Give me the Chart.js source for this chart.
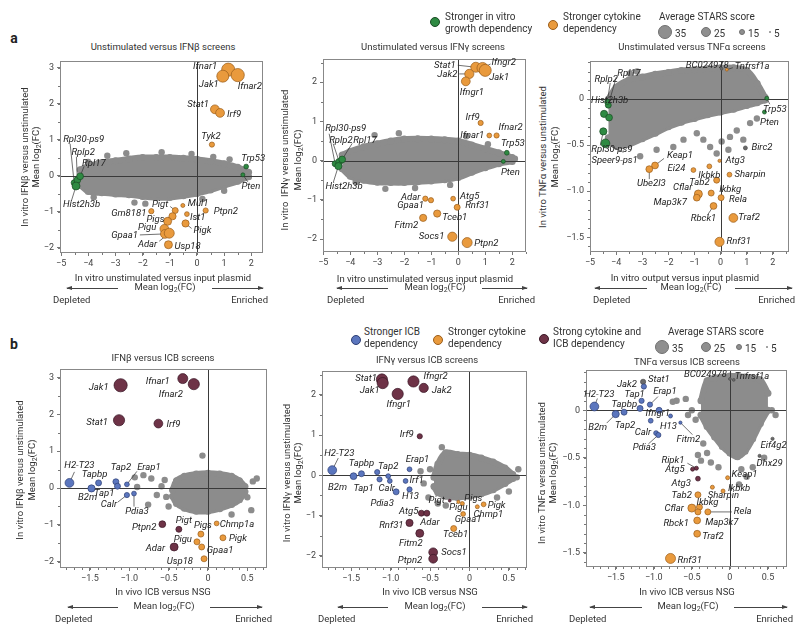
<!DOCTYPE html>
<html>
<head>
<meta charset="utf-8">
<script src="https://cdn.jsdelivr.net/npm/chart.js@4.4.1/dist/chart.umd.min.js"></script>
<style>
body { margin: 0; background: #fff; }
#fig { position: relative; width: 800px; height: 634px; overflow: hidden; font-family: Roboto, "DejaVu Sans", sans-serif; color: #222; }
.t { position: absolute; white-space: nowrap; font-size: 9.5px; line-height: 1; }
.leg { font-size: 10px; color: #333; }
.tit { font-size: 9.5px; color: #333; }
canvas { position: absolute; }
.ln { position: absolute; height: 1px; background: #444; }
.hd { position: absolute; width: 0; height: 0; border-top: 2.5px solid transparent; border-bottom: 2.5px solid transparent; }
.dot { position: absolute; border-radius: 50%; box-sizing: border-box; }
</style>
</head>
<body>
<div id="fig"></div>
<script>
// ---- tick values and labels ----
var aXTicks = [-5, -4, -3, -2, -1, 0, 1, 2];
var aXLabels = ["\u22125", "\u22124", "\u22123", "\u22122", "\u22121", "0", "1", "2"];
var bXTicks = [-1.5, -1, -0.5, 0, 0.5];
var bXLabels = ["\u22121.5", "\u22121.0", "\u22120.5", "0", "0.5"];
var y3Ticks = [-2, -1, 0, 1, 2, 3];
var y3Labels = ["\u22122", "\u22121", "0", "1", "2", "3"];
var y2Ticks = [-2, -1, 0, 1, 2];
var y2Labels = ["\u22122", "\u22121", "0", "1", "2"];
var tnfTicks = [-1.5, -1, -0.5, 0];
var tnfLabels = ["\u22121.5", "\u22121.0", "\u22120.5", "0"];

// ---- a1: Unstimulated versus IFNb ----
var a1Gene = ["Ifnar1", "Jak1", "Ifnar2", "Stat1", "Irf9", "Tyk2", "Gm8181", "Pigt", "Mul1", "Ist1", "Ptpn2", "Pigk", "Pigs", "", "Pigu", "Gpaa1", "Adar", "Usp18", "Rpl30-ps9", "Rplp2", "Rpl17", "Hist2h3b", "Trp53", "Pten"];
var a1X = [1.15, 0.95, 1.5, 0.66, 0.85, 0.55, -1.68, -0.8, -0.52, -0.37, 0.32, -0.42, -0.9, -1.08, -1.2, -1.18, -1.02, -1.05, -4.52, -4.4, -4.3, -4.45, 1.81, 1.69];
var a1Y = [2.94, 2.76, 2.79, 1.84, 1.74, 0.86, -0.99, -0.97, -0.83, -1.07, -0.97, -1.33, -1.13, -1.27, -1.48, -1.62, -1.6, -1.92, -0.2, -0.12, -0.02, -0.29, 0.25, 0.02];
var a1Score = [33, 30, 33, 22, 22, 13, 13, 15, 10, 12, 13, 18, 18, 20, 22, 22, 25, 20, 15, 17, 17, 20, 12, 10];
var a1Type = "oooooooooooooooooogggggg".split("");
var a1CloudX = [-4.3, -4, -3.5, -3, -2.5, -2, -1.5, -1, -0.5, 0, 0.5, 1, 1.5, 1.9];
var a1CloudTop = [0.16, 0.26, 0.36, 0.41, 0.46, 0.5, 0.5, 0.5, 0.48, 0.45, 0.4, 0.33, 0.23, 0.09];
var a1CloudBot = [-0.26, -0.44, -0.48, -0.51, -0.53, -0.58, -0.61, -0.61, -0.56, -0.5, -0.4, -0.28, -0.16, -0.03];
var a1GrayX = [-4.0, -3.3, -2.6, -2.3, -1.9, -0.2, 0.6, 1.2, -3.8, -1.3, 0.2, 1.0];
var a1GrayY = [0.38, 0.55, 0.62, -0.75, -0.78, 0.6, 0.52, 0.45, -0.6, 0.65, -0.65, -0.42];

// ---- a2: Unstimulated versus IFNg ----
var a2Gene = ["Stat1", "Ifngr2", "Jak1", "Jak2", "Ifngr1", "Irf9", "Ifnar1", "Ifnar2", "Adar", "Gpaa1", "Atg5", "Rnf31", "Tceb1", "Fitm2", "Socs1", "Ptpn2", "Rpl30-ps9", "Rplp2", "Rpl17", "Hist2h3b", "Trp53", "Pten"];
var a2X = [0.65, 0.9, 1.0, 0.41, 0.28, 0.83, 1.15, 1.42, -1.22, -1.01, -0.19, -0.04, -0.78, -1.3, -0.22, 0.33, -4.56, -4.41, -4.3, -4.44, 1.8, 1.67];
var a2Y = [2.38, 2.36, 2.3, 2.21, 2.02, 0.96, 0.64, 0.64, -0.97, -1.01, -0.97, -1.19, -1.35, -1.46, -1.94, -2.09, -0.08, -0.03, 0.03, -0.14, 0.2, -0.02];
var a2Score = [25, 28, 30, 23, 22, 13, 12, 13, 13, 13, 12, 15, 18, 18, 23, 25, 15, 17, 17, 18, 12, 10];
var a2Type = "oooooooooooooooogggggg".split("");
var a2CloudX = [-4.3, -4, -3.5, -3, -2.5, -2, -1.5, -1, -0.5, 0, 0.5, 1, 1.5, 2];
var a2CloudTop = [0.14, 0.24, 0.35, 0.43, 0.5, 0.55, 0.56, 0.55, 0.53, 0.5, 0.4, 0.3, 0.2, 0.08];
var a2CloudBot = [-0.21, -0.4, -0.5, -0.55, -0.56, -0.56, -0.54, -0.52, -0.49, -0.43, -0.3, -0.18, -0.08, -0.02];
var a2GrayX = [-2.7, -3.1, -2.2, 1.1, 0.3, -0.3, 2.1, -1.6, -3.8];
var a2GrayY = [-0.72, 0.65, 0.7, 0.42, 0.62, -0.62, 0.05, -0.7, -0.55];

// ---- a3: Unstimulated versus TNFa ----
var a3Gene = ["BC024978", "Tnfrsf1a", "Keap1", "Ube2l3", "Ei24", "Ikbkb", "Atg3", "Sharpin", "Tab2", "Cflar", "Map3k7", "Ikbkg", "Rela", "Rbck1", "Traf2", "Rnf31", "Birc2", "Rpl17", "Rplp2", "Hist2h3b", "", "Rpl30-ps9", "Speer9-ps1", "Trp53", "Pten"];
var a3X = [0.04, 0.24, -2.51, -2.73, -1.04, -0.43, -0.04, 0.34, -0.15, -0.85, -0.91, -0.36, 0.02, -0.27, 0.49, -0.04, 0.95, -4.3, -4.34, -4.46, -4.27, -4.49, -4.41, 1.77, 1.68];
var a3Y = [0.33, 0.32, -0.72, -0.76, -0.77, -0.73, -0.67, -0.82, -0.88, -1.03, -1.07, -1.02, -1.07, -1.16, -1.29, -1.55, -0.53, -0.065, -0.03, -0.16, -0.2, -0.35, -0.48, 0.01, -0.14];
var a3Score = [7, 7, 17, 17, 12, 12, 8, 12, 15, 20, 17, 15, 15, 17, 22, 23, 10, 15, 13, 18, 17, 18, 22, 10, 10];
var a3Type = ["d"].concat("oooooooooooooood".split(""), "gggggggg".split(""));
var a3CloudX = [-4.3, -4, -3.5, -3, -2.5, -2, -1.5, -1, -0.5, 0, 0.5, 1, 1.4, 1.7];
var a3CloudTop = [0.0, 0.13, 0.21, 0.24, 0.27, 0.29, 0.31, 0.32, 0.33, 0.34, 0.34, 0.31, 0.17, 0.02];
var a3CloudBot = [-0.42, -0.51, -0.49, -0.43, -0.37, -0.3, -0.25, -0.21, -0.17, -0.14, -0.11, -0.07, -0.04, -0.01];
var a3GrayX = [-0.66, -0.4, -0.15, 0.04, 0.3, 0.36, 0.62, 0.87, 1.13, 1.39, -0.91, -1.42, -1.81, -2.45, -3.08, -3.47, -3.2];
var a3GrayY = [-0.44, -0.52, -0.59, -0.46, -0.55, -0.41, -0.34, -0.44, -0.26, -0.21, -0.37, -0.44, -0.52, -0.55, -0.62, 0.28, 0.3];

// ---- b1: IFNb versus ICB ----
var b1Gene = ["Jak1", "Ifnar1", "Ifnar2", "Stat1", "Irf9", "Ptpn2", "Pigt", "Adar", "H2-T23", "B2m", "Tapbp", "Tap2", "Erap1", "Tap1", "Calr", "Pdia3", "Pigs", "Chmp1a", "Pigk", "Pigu", "Gpaa1", "Usp18"];
var b1X = [-1.11, -0.32, -0.18, -1.13, -0.63, -0.58, -0.37, -0.43, -1.76, -1.48, -1.39, -1.17, -1.03, -1.15, -1.03, -0.94, -0.09, 0.11, 0.19, -0.14, -0.08, -0.05];
var b1Y = [2.79, 2.97, 2.82, 1.84, 1.75, -0.98, -1.12, -1.6, 0.14, -0.01, 0.14, 0.17, 0.1, 0.05, -0.19, -0.15, -1.25, -0.96, -1.35, -1.46, -1.6, -1.92];
var b1Score = [33, 25, 28, 28, 22, 17, 15, 20, 22, 18, 15, 15, 12, 15, 13, 12, 15, 12, 15, 15, 15, 15];
var b1Type = "mmmmmmmmbbbbbbbboooooo".split("");
var b1CloudX = [-0.45, -0.4, -0.3, -0.15, 0, 0.15, 0.3, 0.4, 0.47];
var b1CloudTop = [-0.05, 0.2, 0.32, 0.38, 0.4, 0.38, 0.32, 0.2, 0.04];
var b1CloudBot = [-0.22, -0.42, -0.55, -0.63, -0.63, -0.56, -0.45, -0.32, -0.1];
var b1GrayX = [-0.93, -0.82, -0.72, -0.9, -0.76, -0.65, -0.59, -0.53, 0.62, 0.55, -0.07, 0.57, -0.5, 0.3, -0.55, 0.5];
var b1GrayY = [0.29, 0.35, 0.26, 0.03, -0.45, -0.19, 0.05, -0.24, 0.26, -0.6, 0.88, 0.18, -0.5, -0.72, 0.22, -0.25];

// ---- b2: IFNg versus ICB ----
var b2Gene = ["Stat1", "Jak1", "Ifngr2", "Jak2", "Ifngr1", "Irf9", "Atg5", "Adar", "Rnf31", "Fitm2", "Socs1", "Ptpn2", "Pigt", "H2-T23", "B2m", "Tapbp", "Tap2", "Tap1", "", "Calr", "Pdia3", "Erap1", "Irf1", "H13", "Pigs", "Pigu", "Gpaa1", "Chmp1", "Pigk", "Tceb1"];
var b2X = [-1.11, -1.1, -0.71, -0.58, -0.91, -0.63, -0.61, -0.54, -0.76, -0.63, -0.46, -0.46, -0.25, -1.74, -1.47, -1.37, -1.17, -1.14, -1.03, -1.01, -0.93, -0.76, -0.81, -0.76, -0.09, -0.14, -0.08, 0.1, 0.18, -0.2];
var b2Y = [2.38, 2.29, 2.33, 2.17, 2.02, 0.97, -0.94, -0.94, -1.18, -1.44, -1.91, -2.07, -0.63, 0.13, -0.02, 0.04, 0.08, -0.1, -0.02, -0.14, -0.41, 0.15, -0.14, -0.35, -0.7, -0.66, -0.96, -0.78, -0.72, -1.32];
var b2Score = [28, 28, 28, 23, 28, 13, 15, 15, 18, 20, 22, 22, 7, 22, 17, 15, 13, 13, 12, 12, 15, 12, 12, 13, 10, 8, 12, 10, 12, 15];
var b2Type = "mmmmmmmmmmmmmbbbbbbbbbbboooooo".split("");
var b2CloudX = [-0.45, -0.4, -0.3, -0.15, 0, 0.15, 0.3, 0.45, 0.55];
var b2CloudTop = [-0.05, 0.28, 0.56, 0.52, 0.5, 0.43, 0.33, 0.18, 0.02];
var b2CloudBot = [-0.28, -0.43, -0.52, -0.55, -0.52, -0.46, -0.36, -0.2, -0.08];
var b2GrayX = [-0.58, -0.52, -0.4, -0.3, 0.62, 0.5, -0.5, -0.62, 0.6, -0.35, 0.35];
var b2GrayY = [-0.2, -0.55, -0.7, -0.75, 0.15, -0.4, 0.15, 0.1, -0.05, 0.7, -0.55];

// ---- b3: TNFa versus ICB ----
var b3Gene = ["H2-T23", "B2m", "Tap2", "Tapbp", "Tap1", "Jak2", "Erap1", "", "Ifngr1", "H13", "Calr", "Pdia3", "Fitm2", "Stat1", "BC024978", "Tnfrsf1a", "Eif4g2", "Dhx29", "Ripk1", "Atg5", "Atg3", "Keap1", "Sharpin", "Ikbkb", "Tab2", "Cflar", "Ikbkg", "Rbck1", "Rela", "Map3k7", "Traf2", "Rnf31"];
var b3X = [-1.78, -1.5, -1.39, -1.18, -1.16, -1.13, -1.05, -0.93, -1.04, -0.78, -0.97, -0.94, -0.65, -1.14, 0.0, 0.05, 0.56, 0.39, -0.44, -0.49, -0.42, -0.03, -0.23, -0.09, -0.42, -0.5, -0.4, -0.42, -0.29, -0.43, -0.43, -0.78];
var b3Y = [0.04, -0.04, -0.02, 0.02, 0.1, 0.25, 0.06, 0.0, -0.11, -0.06, -0.24, -0.26, -0.13, 0.3, 0.33, 0.32, -0.3, -0.48, -0.61, -0.62, -0.72, -0.71, -0.81, -0.85, -0.89, -1.03, -1.02, -1.07, -1.07, -1.16, -1.3, -1.56];
var b3Score = [22, 18, 15, 15, 13, 13, 13, 15, 12, 10, 12, 13, 8, 13, 7, 7, 8, 8, 10, 10, 12, 10, 10, 10, 15, 20, 15, 15, 15, 17, 17, 25];
var b3Type = "bbbbbbbbbbbbbdddddmmmooooooooooo".split("");
var b3CloudX = [-0.38, -0.3, -0.2, -0.1, 0, 0.1, 0.2, 0.3, 0.4, 0.5];
var b3CloudTop = [0.1, 0.31, 0.34, 0.35, 0.36, 0.36, 0.35, 0.34, 0.32, 0.18];
var b3CloudBot = [-0.05, -0.17, -0.28, -0.38, -0.45, -0.49, -0.43, -0.3, -0.14, 0.0];
var b3GrayX = [-0.75, -0.7, -0.58, -0.55, -0.5, -0.45, -0.42, -0.35, -0.3, -0.38, 0.3, 0.22, 0.55, 0.6, 0.45, -0.25, -0.15, 0.15, 0.12];
var b3GrayY = [0.09, 0.1, 0.12, -0.05, 0.0, -0.1, -0.47, -0.35, -0.45, -0.53, -0.6, -0.7, 0.0, -0.05, -0.5, -0.55, -0.6, -0.62, -0.78];
var grayScore = 16;

// label offsets in pixels from the point: [dx, dy, align, lineEndX, lineEndY]
var labelPos = {
    a1: { Ifnar1: [-11, -3, "r"], Jak1: [-4, 8, "r"], Ifnar2: [0, 12, "l"], Stat1: [-6, -5, "r"], Irf9: [7, 2, "l"], Tyk2: [-1, -8, "c"],
        Gm8181: [-5, 2, "r"], Pigt: [-7, -6, "r", -5, -4], Mul1: [5, -2, "l"], Ist1: [3, 4, "l"], Ptpn2: [8, 1, "l"], Pigk: [8, 7, "l", 6, 5],
        Pigs: [-8, 3, "r", -6, 2], Pigu: [-8, -1, "r"], Gpaa1: [-27, 2, "r", -25, 1], Adar: [-12, 11, "r", -10, 8], Usp18: [6, 2, "l"],
        "Rpl30-ps9": [-11, -43, "l", -4, -39], Rplp2: [-6, -27, "l", -1, -23], Rpl17: [2, -13, "l", 4, -10], Hist2h3b: [-13, 19, "l", -5, 16],
        Trp53: [7, -8, "c"], Pten: [8, 12, "c", 5, 7] },
    a2: { Stat1: [-20, -2, "r", -18, -2], Jak2: [-12, 1, "r", -10, 0], Ifngr1: [6, 11, "c"], Ifngr2: [9, -5, "l", 8, -4], Jak1: [4, 7, "l"],
        Irf9: [-8, -5, "c"], Ifnar1: [-5, 0, "r"], Ifnar2: [2, -8, "l"], Trp53: [6, -9, "c"], Pten: [7, 11, "c"],
        "Rpl30-ps9": [-10, -35, "l", -6, -30], Rplp2: [-10, -21, "l", -6, -18], Rpl17: [11, -19, "l", 10, -16], Hist2h3b: [-13, 21, "l", -5, 16],
        Adar: [-5, -1, "r"], Gpaa1: [-7, 5, "r"], Atg5: [7, -2, "l"], Rnf31: [8, -2, "l"], Tceb1: [5, 4, "l"], Fitm2: [-5, 8, "r"],
        Socs1: [-8, 0, "r"], Ptpn2: [7, 1, "l"] },
    a3: { BC024978: [7, -3, "r"], Tnfrsf1a: [8, -3, "l", 6, -2], Keap1: [12, -10, "l", 9, -7], Ube2l3: [2, 14, "c", 0, 10], Ei24: [-8, -1, "r"],
        Ikbkb: [0, 9, "c"], Atg3: [6, 0, "l"], Sharpin: [5, 0, "l"], Tab2: [-7, 2, "r"], Cflar: [-6, -6, "r"], Map3k7: [-10, 5, "r"],
        Ikbkg: [8, -3, "l"], Rela: [8, 2, "l"], Rbck1: [-10, 13, "c", -6, 9], Traf2: [5, 0, "l"], Rnf31: [7, 0, "l"], Birc2: [6, 0, "l"],
        Rpl17: [9, -32, "l", 8, -28], Rplp2: [-1, -22, "c", 3, -19], Hist2h3b: [-13, -13, "l"], "Rpl30-ps9": [-12, 18, "l", -3, 14],
        "Speer9-ps1": [-14, 17, "l", 18, 9], Trp53: [8, 11, "c", 3, 6], Pten: [5, 11, "c"] },
    b1: { Jak1: [-12, 2, "r"], Ifnar1: [-13, 3, "r"], Ifnar2: [-11, 10, "r"], Stat1: [-11, 2, "r"], Irf9: [8, 1, "l"],
        "H2-T23": [10, -17, "c", 5, -11], Tapbp: [-4, -8, "c"], B2m: [-4, 9, "c"], Tap2: [5, -14, "c"], Erap1: [22, -17, "c", 10, -13],
        Tap1: [-3, 7, "r"], Calr: [-18, 10, "c", -9, 7], Pdia3: [3, 18, "c", 0, 13], Ptpn2: [-6, 3, "r"], Pigt: [5, -9, "c"], Pigs: [2, -8, "c"],
        Chmp1a: [3, 1, "l"], Pigk: [6, 1, "l"], Pigu: [-5, -2, "r"], Adar: [-9, 2, "r"], Gpaa1: [5, 4, "l"], Usp18: [-11, 3, "r"] },
    b2: { Stat1: [-5, -1, "r"], Jak1: [-3, 8, "r"], Ifngr2: [10, -5, "l"], Jak2: [8, 3, "l"], Ifngr1: [1, 11, "c"], Irf9: [-6, -2, "r"],
        "H2-T23": [7, -16, "c", 6, -12], Tapbp: [0, -10, "c"], Tap2: [11, -5, "c"], B2m: [-16, 11, "c"], Tap1: [-16, 9, "c"], Calr: [-3, 8, "c"],
        Pdia3: [-14, 12, "c"], Erap1: [8, -10, "c"], Irf1: [4, 0, "l"], H13: [1, 7, "c"], Pigt: [-5, 0, "r"], Pigs: [2, -5, "l"], Pigu: [0, 6, "c"],
        Gpaa1: [5, 6, "c"], Chmp1: [11, 8, "c"], Pigk: [4, 1, "l"], Atg5: [-3, -2, "r"], Adar: [3, 9, "c"], Rnf31: [-6, 3, "r"],
        Fitm2: [-9, 10, "c"], Tceb1: [2, 6, "c"], Socs1: [8, 0, "l"], Ptpn2: [-11, 2, "r"] },
    b3: { "H2-T23": [5, -12, "c", 3, -8], Jak2: [-7, -2, "r"], Stat1: [5, -2, "l"], Tap1: [-7, -6, "c"], Tapbp: [-3, -4, "r"],
        Erap1: [15, -13, "c", 8, -8], B2m: [-18, 14, "c", -9, 9], Tap2: [1, 13, "c"], Ifngr1: [7, -7, "c"], H13: [-2, 11, "c"], Calr: [-5, 0, "r"],
        Pdia3: [-14, 13, "c", -10, 9], Fitm2: [8, 17, "c", 12, 12], BC024978: [-3, -4, "r"], Tnfrsf1a: [1, -3, "l"], Eif4g2: [1, 7, "c"],
        Dhx29: [10, 8, "c"], Ripk1: [-12, -8, "r", -9, -5], Atg5: [-8, 0, "r"], Atg3: [-7, 5, "r"], Keap1: [4, -3, "l"], Sharpin: [11, 8, "c"],
        Ikbkb: [5, -2, "l"], Tab2: [-6, 1, "r"], Ikbkg: [8, -5, "c"], Cflar: [-8, 1, "r"], Rela: [26, 0, "l", 24, 0], Rbck1: [-9, 12, "r"],
        Map3k7: [8, 2, "l"], Traf2: [5, 3, "l"], Rnf31: [7, 2, "l"] }
};

var COL = { o: ["#e99a3d", "#9a5d1b"], g: ["#2e8a42", "#1a4a24"], b: ["#5b76be", "#2e3f74"], m: ["#6e3347", "#3a1726"], d: ["#6a6a6a", "#4a4a4a"] };
var GRAY = "#8c8c8c";
var FONT = "Roboto, 'DejaVu Sans', sans-serif";
var PADL = 36, PADR = 8, PADT = 8, PADB = 20;

var panels = [
    { id: "a1", frame: [60, 61, 263, 253], xr: [-5.04, 2.43], yr: [-2.15, 3.17], xt: aXTicks, xl: aXLabels, yt: y3Ticks, yl: y3Labels, minor: [0.5, 0.5],
        gene: a1Gene, x: a1X, y: a1Y, s: a1Score, g: a1Type, cx: a1CloudX, ct: a1CloudTop, cb: a1CloudBot, ox: a1GrayX, oy: a1GrayY },
    { id: "a2", frame: [323, 59, 526, 252], xr: [-5.01, 2.51], yr: [-2.33, 2.58], xt: aXTicks, xl: aXLabels, yt: y2Ticks, yl: y2Labels, minor: [0.5, 0.5],
        gene: a2Gene, x: a2X, y: a2Y, s: a2Score, g: a2Type, cx: a2CloudX, ct: a2CloudTop, cb: a2CloudBot, ox: a2GrayX, oy: a2GrayY },
    { id: "a3", frame: [590, 61, 789, 252], xr: [-5.0, 2.62], yr: [-1.66, 0.41], xt: aXTicks, xl: aXLabels, yt: tnfTicks, yl: tnfLabels, minor: [0.5, 0.1],
        gene: a3Gene, x: a3X, y: a3Y, s: a3Score, g: a3Type, cx: a3CloudX, ct: a3CloudTop, cb: a3CloudBot, ox: a3GrayX, oy: a3GrayY },
    { id: "b1", frame: [60, 369, 267, 568], xr: [-1.88, 0.75], yr: [-2.17, 3.22], xt: bXTicks, xl: bXLabels, yt: y3Ticks, yl: y3Labels, minor: [0.1, 0.5],
        gene: b1Gene, x: b1X, y: b1Y, s: b1Score, g: b1Type, cx: b1CloudX, ct: b1CloudTop, cb: b1CloudBot, ox: b1GrayX, oy: b1GrayY },
    { id: "b2", frame: [322, 371, 527, 568], xr: [-1.87, 0.73], yr: [-2.3, 2.58], xt: bXTicks, xl: bXLabels, yt: y2Ticks, yl: y2Labels, minor: [0.1, 0.5],
        gene: b2Gene, x: b2X, y: b2Y, s: b2Score, g: b2Type, cx: b2CloudX, ct: b2CloudTop, cb: b2CloudBot, ox: b2GrayX, oy: b2GrayY },
    { id: "b3", frame: [586, 370, 787, 567], xr: [-1.89, 0.75], yr: [-1.65, 0.42], xt: bXTicks, xl: bXLabels, yt: tnfTicks, yl: tnfLabels, minor: [0.1, 0.1],
        gene: b3Gene, x: b3X, y: b3Y, s: b3Score, g: b3Type, cx: b3CloudX, ct: b3CloudTop, cb: b3CloudBot, ox: b3GrayX, oy: b3GrayY }
];

var fig = document.getElementById("fig");

function put(x, y, html, cls, a, rot) {
    var d = document.createElement("div");
    d.className = "t " + (cls || "");
    d.innerHTML = html;
    d.style.left = x + "px";
    d.style.top = y + "px";
    var tx = a === "l" ? "0" : a === "r" ? "-100%" : "-50%";
    d.style.transform = "translate(" + tx + ",-50%)" + (rot ? " rotate(-90deg)" : "");
    fig.appendChild(d);
    return d;
}

function arrow(x1, x2, y, dir) {
    var l = document.createElement("div");
    l.className = "ln";
    l.style.left = x1 + "px"; l.style.top = y + "px"; l.style.width = (x2 - x1) + "px";
    fig.appendChild(l);
    var h = document.createElement("div");
    h.className = "hd";
    h.style.top = (y - 2) + "px";
    if (dir === "l") { h.style.left = (x1 - 1) + "px"; h.style.borderRight = "6px solid #444"; }
    else { h.style.left = (x2 - 5) + "px"; h.style.borderLeft = "6px solid #444"; }
    fig.appendChild(h);
}

function dot(x, y, r, fill, stroke) {
    var d = document.createElement("div");
    d.className = "dot";
    d.style.left = (x - r) + "px"; d.style.top = (y - r) + "px";
    d.style.width = (2 * r) + "px"; d.style.height = (2 * r) + "px";
    d.style.background = fill;
    d.style.border = "0.8px solid " + stroke;
    fig.appendChild(d);
}

// plugin: frame, zero lines, minor ticks, leader lines and gene names
var geneLabels = {
    id: "geneLabels",
    afterDatasetDraw: function (chart, args) {
        if (!chart.data.datasets[args.index].zeroAfter) return;
        var ctx = chart.ctx, a = chart.chartArea, sx = chart.scales.x, sy = chart.scales.y;
        ctx.save();
        ctx.strokeStyle = "#3a3a3a";
        ctx.lineWidth = 1;
        var x0 = Math.round(sx.getPixelForValue(0)) + 0.5, y0 = Math.round(sy.getPixelForValue(0)) + 0.5;
        ctx.beginPath();
        ctx.moveTo(a.left, y0); ctx.lineTo(a.right, y0);
        ctx.moveTo(x0, a.top); ctx.lineTo(x0, a.bottom);
        ctx.stroke();
        // leader lines, under the coloured points
        var p = chart.options.plugins.geneLabels;
        ctx.strokeStyle = "#333";
        ctx.lineWidth = 0.7;
        p.pts.forEach(function (q) {
            var lp = p.pos[q.name];
            if (!lp || lp.length < 5) return;
            var px = sx.getPixelForValue(q.x), py = sy.getPixelForValue(q.y);
            ctx.beginPath();
            ctx.moveTo(px, py);
            ctx.lineTo(px + lp[3], py + lp[4]);
            ctx.stroke();
        });
        ctx.restore();
    },
    afterDatasetsDraw: function (chart) {
        var ctx = chart.ctx, a = chart.chartArea, sx = chart.scales.x, sy = chart.scales.y;
        var p = chart.options.plugins.geneLabels;
        ctx.save();
        ctx.strokeStyle = "#888";
        ctx.lineWidth = 1;
        ctx.strokeRect(Math.round(a.left) + 0.5, Math.round(a.top) + 0.5, Math.round(a.right - a.left) - 1, Math.round(a.bottom - a.top) - 1);
        // minor ticks
        ctx.strokeStyle = "#777";
        ctx.beginPath();
        var v;
        for (v = Math.ceil(sx.min / p.minor[0]) * p.minor[0]; v <= sx.max; v += p.minor[0]) {
            var xx = Math.round(sx.getPixelForValue(v)) + 0.5;
            ctx.moveTo(xx, a.bottom); ctx.lineTo(xx, a.bottom + 2);
        }
        for (v = Math.ceil(sy.min / p.minor[1]) * p.minor[1]; v <= sy.max; v += p.minor[1]) {
            var yy = Math.round(sy.getPixelForValue(v)) + 0.5;
            ctx.moveTo(a.left, yy); ctx.lineTo(a.left - 2, yy);
        }
        ctx.stroke();
        ctx.font = "italic 9.5px " + FONT;
        ctx.fillStyle = "#222";
        ctx.textBaseline = "middle";
        p.pts.forEach(function (q) {
            var lp = p.pos[q.name];
            if (!q.name || !lp) return;
            var px = sx.getPixelForValue(q.x), py = sy.getPixelForValue(q.y);
            ctx.textAlign = lp[2] === "l" ? "left" : lp[2] === "r" ? "right" : "center";
            ctx.fillText(q.name, px + lp[0], py + lp[1]);
        });
        ctx.restore();
    }
};

function makeChart(p) {
    var L = p.frame[0], T = p.frame[1], R = p.frame[2], B = p.frame[3];
    var W = R - L + PADL + PADR, H = B - T + PADT + PADB;
    var cv = document.createElement("canvas");
    cv.width = W; cv.height = H;
    cv.style.left = (L - PADL) + "px"; cv.style.top = (T - PADT) + "px";
    cv.style.width = W + "px"; cv.style.height = H + "px";
    fig.appendChild(cv);

    var pts = p.gene.map(function (g, i) { return { x: p.x[i], y: p.y[i], s: p.s[i], name: g, t: p.g[i] }; });
    var ds = ["o", "b", "m", "g", "d"].map(function (k) {
        return {
            type: "scatter",
            data: pts.filter(function (q) { return q.t === k; }),
            backgroundColor: COL[k][0], borderColor: COL[k][1], borderWidth: 0.7,
            pointRadius: function (c) { return c.raw ? c.raw.s * 0.2 : 0; }
        };
    });
    ds.push({
        type: "scatter",
        data: p.ox.map(function (x, i) { return { x: x, y: p.oy[i], s: grayScore }; }),
        backgroundColor: GRAY, borderWidth: 0, zeroAfter: true,
        pointRadius: function (c) { return c.raw ? c.raw.s * 0.2 : 0; }
    });
    // dense cloud of the remaining genes: filled band between its upper and lower edge
    var band = { type: "line", borderColor: GRAY, backgroundColor: GRAY, borderWidth: 6, tension: 0.35,
        pointRadius: 3.5, pointBackgroundColor: GRAY, pointBorderWidth: 0,
        borderJoinStyle: "round", borderCapStyle: "round" };
    ds.push(Object.assign({}, band, { data: p.cx.map(function (x, i) { return { x: x, y: p.ct[i] }; }), fill: "+1" }));
    ds.push(Object.assign({}, band, { data: p.cx.map(function (x, i) { return { x: x, y: p.cb[i] }; }), fill: false }));

    var tickFont = { family: FONT, size: 9 };
    new Chart(cv, {
        type: "scatter",
        data: { datasets: ds },
        options: {
            responsive: false, animation: false, devicePixelRatio: 1,
            layout: { padding: { left: 0, right: PADR, top: PADT, bottom: 0 } },
            plugins: { legend: { display: false }, tooltip: { enabled: false },
                geneLabels: { pts: pts, pos: labelPos[p.id], minor: p.minor } },
            scales: {
                x: {
                    type: "linear", min: p.xr[0], max: p.xr[1],
                    afterFit: function (s) { s.height = PADB; },
                    afterBuildTicks: function (s) { s.ticks = p.xt.map(function (v) { return { value: v }; }); },
                    ticks: { callback: function (v, i) { return p.xl[i]; }, font: tickFont, color: "#444", padding: 2, maxRotation: 0, autoSkip: false },
                    grid: { drawOnChartArea: false, tickLength: 3, color: "#777" },
                    border: { display: false }
                },
                y: {
                    type: "linear", min: p.yr[0], max: p.yr[1],
                    afterFit: function (s) { s.width = PADL; },
                    afterBuildTicks: function (s) { s.ticks = p.yt.map(function (v) { return { value: v }; }); },
                    ticks: { callback: function (v, i) { return p.yl[i]; }, font: tickFont, color: "#444", padding: 3, autoSkip: false },
                    grid: { drawOnChartArea: false, tickLength: 3, color: "#777" },
                    border: { display: false }
                }
            }
        },
        plugins: [geneLabels]
    });
}

panels.forEach(makeChart);

// ---- texts around the panels ----
var meanLog = "Mean log<sub style='font-size:7px;vertical-align:-2px'>2</sub>(FC)";
put(14, 38, "a", "", "c").style.cssText += "font-weight:bold;font-size:14px;";
put(14, 344, "b", "", "c").style.cssText += "font-weight:bold;font-size:14px;";

put(163, 47, "Unstimulated versus IFN\u03b2 screens", "tit");
put(433, 47, "Unstimulated versus IFN\u03b3 screens", "tit");
put(692, 47, "Unstimulated versus TNF\u03b1 screens", "tit");
put(163, 358, "IFN\u03b2 versus ICB screens", "tit");
put(427, 360, "IFN\u03b3 versus ICB screens", "tit");
put(687, 362, "TNF\u03b1 versus ICB screens", "tit");

// y axis titles
put(25, 157, "In vitro IFN\u03b2 versus unstimulated", "tit", "c", true);
put(37, 157, meanLog, "tit", "c", true);
put(285, 160, "In vitro&nbsp; IFN\u03b3 versus unstimulated", "tit", "c", true);
put(299, 160, meanLog, "tit", "c", true);
put(543, 157, "In vitro TNF\u03b1 versus unstimulated", "tit", "c", true);
put(556, 157, meanLog, "tit", "c", true);
put(20, 470, "In vitro IFN\u03b2 versus unstimulated", "tit", "c", true);
put(33, 470, meanLog, "tit", "c", true);
put(287, 473, "In vitro IFN\u03b3 versus unstimulated", "tit", "c", true);
put(299, 473, meanLog, "tit", "c", true);
put(542, 473, "In vitro TNF\u03b1 versus unstimulated", "tit", "c", true);
put(554, 473, meanLog, "tit", "c", true);

// x axis titles, arrows and directions
var xTitles = [
    [163, 278, "In vitro unstimulated versus input plasmid", 288, 300, 67, 118, 212, 263, 53, 268],
    [425, 279, "In vitro unstimulated versus input plasmid", 288, 300, 337, 388, 482, 527, 327, 535],
    [685, 278, "In vitro output versus input plasmid", 288, 300, 595, 647, 735, 792, 593, 795],
    [163, 592, "In vivo ICB versus NSG", 607, 619, 68, 118, 210, 262, 55, 272],
    [430, 592, "In vivo ICB versus NSG", 607, 619, 338, 388, 482, 527, 318, 533],
    [687, 592, "In vivo ICB versus NSG", 607, 619, 590, 642, 734, 787, 569, 793]
];
xTitles.forEach(function (r) {
    put(r[0], r[1], r[2], "tit");
    put((r[6] + r[7]) / 2, r[3], meanLog, "tit");
    arrow(r[5], r[6], r[3], "l");
    arrow(r[7], r[8], r[3], "r");
    put(r[9], r[4], "Depleted", "tit", "l");
    put(r[10], r[4], "Enriched", "tit", "r");
});

// ---- legends ----
dot(435, 22, 5, COL.g[0], COL.g[1]);
put(445, 17, "Stronger in vitro", "leg", "l");
put(445, 29, "growth dependency", "leg", "l");
dot(553, 25, 5, COL.o[0], COL.o[1]);
put(563, 17, "Stronger cytokine", "leg", "l");
put(563, 29, "dependency", "leg", "l");

dot(356, 340, 5, COL.b[0], COL.b[1]);
put(364, 332, "Stronger ICB", "leg", "l");
put(364, 344, "dependency", "leg", "l");
dot(438, 340, 5, COL.o[0], COL.o[1]);
put(448, 332, "Stronger cytokine", "leg", "l");
put(448, 344, "dependency", "leg", "l");
dot(544, 339, 5, COL.m[0], COL.m[1]);
put(553, 332, "Strong cytokine and", "leg", "l");
put(553, 344, "ICB dependency", "leg", "l");

var starsScores = [35, 25, 15, 5];
function starsLegend(x0, y0, xs) {
    put(x0, y0, "Average STARS score", "leg", "l");
    starsScores.forEach(function (s, i) {
        dot(xs[i], y0 + 15, s * 0.2, "#8f8f8f", "#6f6f6f");
        put(xs[i] + s * 0.2 + 3, y0 + 17, String(s), "leg", "l");
    });
}
starsLegend(659, 17, [665, 706, 742, 770]);
starsLegend(668, 332, [662, 706, 739, 767]);
</script>
</body>
</html>
